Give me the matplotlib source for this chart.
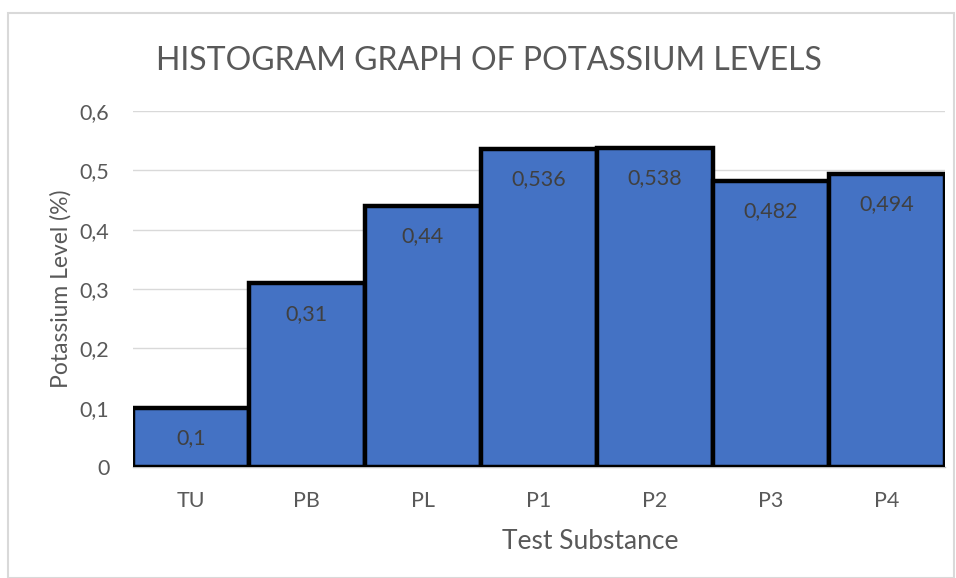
import matplotlib.pyplot as plt
from matplotlib.patches import Rectangle

# data
substances = ["TU", "PB", "PL", "P1", "P2", "P3", "P4"]
potassium = [0.1, 0.31, 0.44, 0.536, 0.538, 0.482, 0.494]
yticks = [0, 0.1, 0.2, 0.3, 0.4, 0.5, 0.6]

plt.rcParams['font.family'] = ['Lato', 'DejaVu Sans']

fig = plt.figure(figsize=(9.56, 5.78), dpi=100)
ax = fig.add_axes([0.139, 0.192, 0.849, 0.616])

# chart border
fig.patches.append(Rectangle((0.008, 0.0), 0.99, 0.977, transform=fig.transFigure,
                             fill=False, edgecolor='#d9d9d9', linewidth=1.5))

x = range(len(substances))
ax.bar(x, potassium, width=1.0, color='#4472C4', edgecolor='black', linewidth=3.2, zorder=3)

for i, v in enumerate(potassium):
    label = ('%g' % v).replace('.', ',')
    ax.annotate(label, (i, v), xytext=(0, -22), textcoords='offset points',
                ha='center', va='center', fontsize=15.5, color='#404040', zorder=4)

ax.set_xlim(-0.5, len(substances) - 0.5)
ax.set_ylim(0, 0.6)
ax.set_yticks(yticks)
ax.set_yticklabels([('%g' % t).replace('.', ',') for t in yticks])
ax.set_xticks(list(x))
ax.set_xticklabels(substances)
ax.tick_params(axis='both', length=0, labelsize=15.5, colors='#595959')
ax.tick_params(axis='x', pad=17)
ax.tick_params(axis='y', pad=17)

ax.yaxis.grid(True, color='#d9d9d9', linewidth=1)
ax.set_axisbelow(True)
for s in ['top', 'right', 'left']:
    ax.spines[s].set_visible(False)
ax.spines['bottom'].set_color('#bfbfbf')
ax.spines['bottom'].set_linewidth(1)

ax.set_xlabel("Test Substance", fontsize=19, color='#595959', labelpad=11)
ax.xaxis.set_label_coords(0.564, -0.175)
ax.set_ylabel("Potassium Level (%)", fontsize=16.5, color='#595959', labelpad=6)
fig.text(0.511, 0.895, "HISTOGRAM GRAPH OF POTASSIUM LEVELS", ha='center', va='center',
         fontsize=23, color='#595959')

fig.savefig("out.png", dpi=100)
